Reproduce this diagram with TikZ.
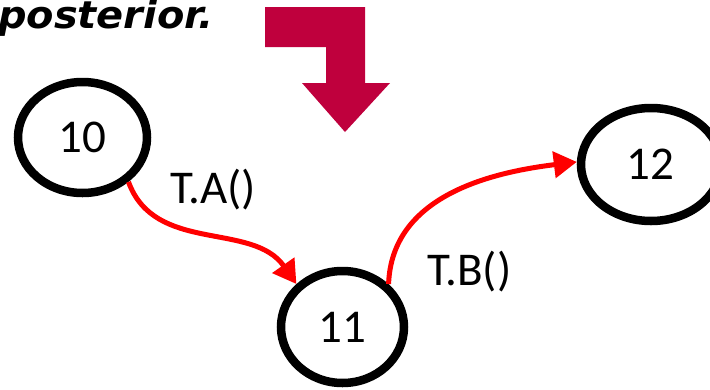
\documentclass[tikz,border=0pt]{standalone}
\usepackage{fontspec}
\setmainfont{Carlito}
\newfontfamily\handfont{DejaVu Sans}
\usetikzlibrary{arrows.meta,shapes.geometric}
\definecolor{blockred}{RGB}{191,0,61}
\definecolor{edgered}{RGB}{255,0,0}
\tikzset{
  x=1pt,y=-1pt,
  state/.style={ellipse,draw=black,line width=8.5pt,inner sep=0pt,
    font=\fontsize{47}{56}\selectfont},
  trans/.style={draw=edgered,line width=5pt,
    -{Triangle[length=23pt,width=26pt]}},
  lbl/.style={anchor=base west,inner sep=0pt,font=\fontsize{47}{56}\selectfont}
}
\begin{document}
\begin{tikzpicture}
\useasboundingbox (0,0) rectangle (710,389);
% heading fragment
\node[anchor=base east,inner sep=0pt,xscale=1.05,
  font=\handfont\bfseries\itshape\fontsize{38}{45}\selectfont] (head) at (214,28) {posterior.};
% block arrow
\fill[blockred] (265,7) -- (365,7) -- (365,83) -- (390,83) -- (345,132)
  -- (302,83) -- (326,83) -- (326,47) -- (265,47) -- cycle;
% states
\node[state,minimum width=129pt,minimum height=111pt] (n10) at (82.5,137.5) {\raisebox{-5pt}{10}};
\node[state,minimum width=123pt,minimum height=112pt] (n11) at (342.5,327) {\raisebox{-5pt}{11}};
\node[state,minimum width=140pt,minimum height=113pt] (n12) at (651,164.5) {\hspace*{-2pt}\raisebox{-5pt}{12}};
% transitions
\draw[trans] (n10.-44) to[out=-70,in=125] (n11.137);
\draw[trans] (n11.43) to[out=88,in=187] (n12.178);
% labels
\node[lbl] (la) at (170,203) {T.A()};
\node[lbl] (lb) at (427,285) {T.B()};
\end{tikzpicture}
\end{document}
